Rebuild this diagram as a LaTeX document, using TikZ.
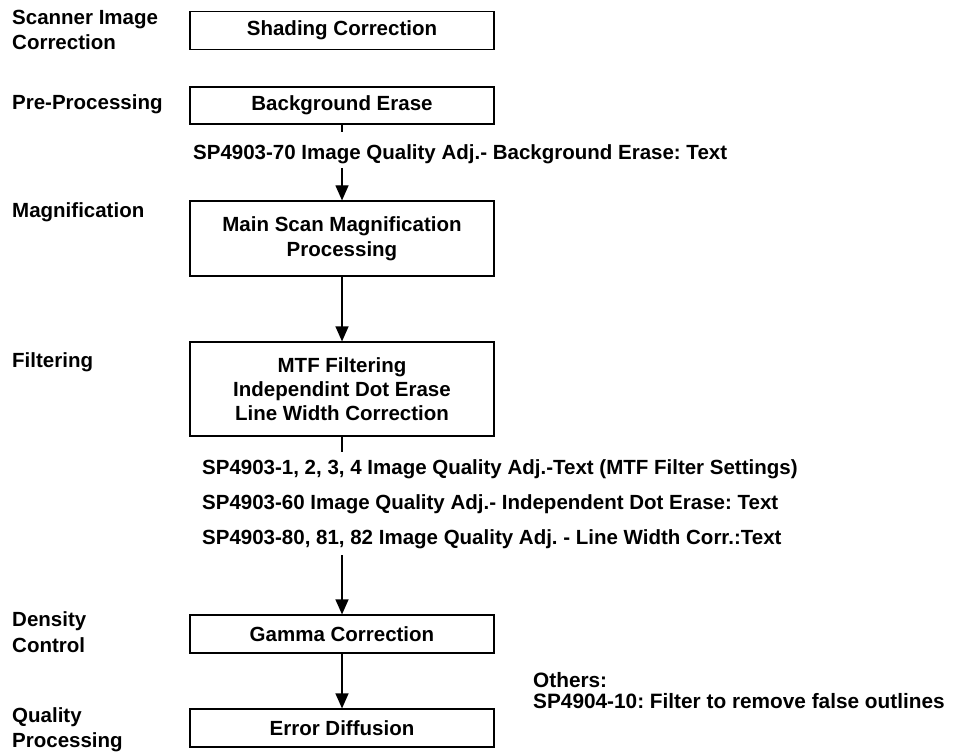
\documentclass[tikz,border=0pt]{standalone}
\usepackage{fontspec}
\setmainfont{Liberation Sans}
\usetikzlibrary{arrows.meta}
\frenchspacing
\begin{document}
\begin{tikzpicture}[x=1pt,y=-1pt,
  every node/.style={font=\fontsize{20.5}{25}\selectfont\bfseries, inner sep=0pt},
  box/.style={draw, line width=1.2pt, minimum width=304pt, align=center},
  lbl/.style={anchor=base west},
  arr/.style={line width=1.2pt, -{Triangle[width=13pt,length=15pt]}},
  ln/.style={line width=1.2pt}]
\useasboundingbox (0,0) rectangle (958,754);
% boxes
\node[box, minimum height=38pt] (sc) at (342,30.5) {Shading Correction};
\node[box, minimum height=37pt] (be) at (342,105.5) {Background Erase};
\node[box, minimum height=75pt] (ms) at (342,238.5) {Main Scan Magnification\\Processing};
\node[box, minimum height=94pt, font=\fontsize{20.5}{24}\selectfont\bfseries] (mtf) at (342,389) {MTF Filtering\\Independint Dot Erase\\Line Width Correction};
\node[box, minimum height=38pt] (gc) at (342,634) {Gamma Correction};
\node[box, minimum height=38pt] (ed) at (342,728) {Error Diffusion};
% left labels
\node[lbl] (l1a) at (12,25) {Scanner Image};
\node[lbl] (l1b) at (12,50) {Correction};
\node[lbl] (l2) at (12,110) {Pre-Processing};
\node[lbl] (l3) at (12,218) {Magnification};
\node[lbl] (l4) at (12,367) {Filtering};
\node[lbl] (l5a) at (12,626) {Density};
\node[lbl] (l5b) at (12,652) {Control};
\node[lbl] (l6a) at (12,722) {Quality};
\node[lbl] (l6b) at (12,747) {Processing};
% SP notes
\node[lbl] (t70) at (193,160) {SP4903-70 Image Quality Adj.- Background Erase: Text};
\node[lbl] (t1) at (202,474) {SP4903-1, 2, 3, 4 Image Quality Adj.-Text (MTF Filter Settings)};
\node[lbl] (t60) at (202,509) {SP4903-60 Image Quality Adj.- Independent Dot Erase: Text};
\node[lbl] (t80) at (202,544) {SP4903-80, 81, 82 Image Quality Adj. - Line Width Corr.:Text};
\node[lbl, font=\fontsize{20.8}{25}\selectfont\bfseries] (oth) at (533,687) {Others:};
\node[lbl, font=\fontsize{20.8}{25}\selectfont\bfseries] (o10) at (533,708) {SP4904-10: Filter to remove false outlines};
% connectors
\coordinate (c1) at (342,132);
\coordinate (c2) at (342,168);
\coordinate (c3) at (342,452);
\coordinate (c4) at (342,555);
\draw[ln] (be.south) -- (c1);
\draw[arr] (c2) -- (ms.north);
\draw[arr] (ms.south) -- (mtf.north);
\draw[ln] (mtf.south) -- (c3);
\draw[arr] (c4) -- (gc.north);
\draw[arr] (gc.south) -- (ed.north);
\end{tikzpicture}
\end{document}
